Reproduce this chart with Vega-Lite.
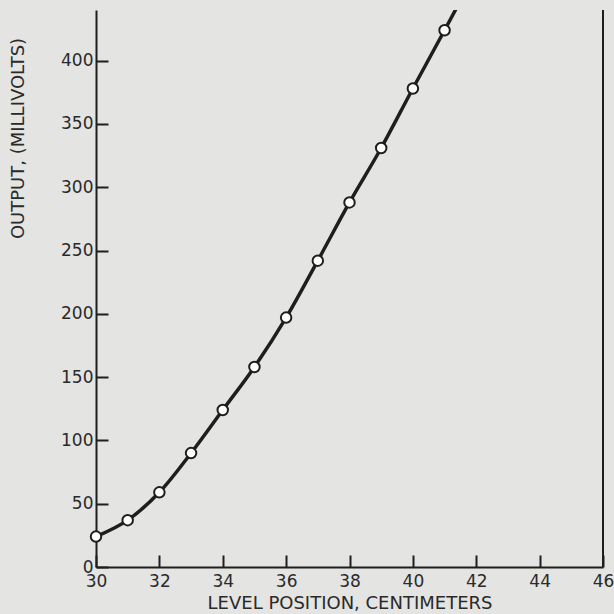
{
  "$schema": "https://vega.github.io/schema/vega-lite/v6.json",
  "width": 507,
  "height": 557,
  "autosize": {"type": "none"},
  "padding": {"left": 96, "top": 10, "right": 11, "bottom": 47},
  "background": "#e4e4e2",
  "config": {
    "view": {"stroke": null},
    "axis": {
      "domainColor": "#1e1e1e",
      "domainWidth": 2,
      "tickColor": "#1e1e1e",
      "tickWidth": 2,
      "labelFont": "DejaVu Sans",
      "labelFontSize": 17,
      "labelColor": "#2a2a2a",
      "titleFont": "DejaVu Sans",
      "titleFontSize": 18,
      "titleFontWeight": "normal",
      "titleColor": "#2a2a2a",
      "grid": false
    }
  },
  "datasets": {
    "pts": [
      {"pos": 30, "mv": 24},
      {"pos": 31, "mv": 37},
      {"pos": 32, "mv": 59},
      {"pos": 33, "mv": 90},
      {"pos": 34, "mv": 124},
      {"pos": 35, "mv": 158},
      {"pos": 36, "mv": 197},
      {"pos": 37, "mv": 242},
      {"pos": 38, "mv": 288},
      {"pos": 39, "mv": 331},
      {"pos": 40, "mv": 378},
      {"pos": 41, "mv": 424}
    ],
    "curve": [
      {"pos": 30, "mv": 24},
      {"pos": 31, "mv": 37},
      {"pos": 32, "mv": 59},
      {"pos": 33, "mv": 90},
      {"pos": 34, "mv": 124},
      {"pos": 35, "mv": 158},
      {"pos": 36, "mv": 197},
      {"pos": 37, "mv": 242},
      {"pos": 38, "mv": 288},
      {"pos": 39, "mv": 331},
      {"pos": 40, "mv": 378},
      {"pos": 41, "mv": 424},
      {"pos": 41.6, "mv": 452}
    ],
    "border": [{"pos": 46}]
  },
  "layer": [
    {
      "data": {"name": "curve"},
      "mark": {"type": "line", "interpolate": "monotone", "color": "#1e1e1e", "strokeWidth": 3.5, "clip": true},
      "encoding": {
        "x": {
          "field": "pos", "type": "quantitative",
          "scale": {"domain": [30, 46], "nice": false, "zero": false},
          "axis": {
            "values": [30, 32, 34, 36, 38, 40, 42, 44, 46],
            "tickSize": -12,
            "labelPadding": 18,
            "labelAlign": "center",
            "title": "LEVEL POSITION, CENTIMETERS",
            "titlePadding": 5
          }
        },
        "y": {
          "field": "mv", "type": "quantitative",
          "scale": {"domain": [0, 440], "nice": false},
          "axis": {
            "values": [0, 50, 100, 150, 200, 250, 300, 350, 400],
            "tickSize": -12,
            "labelPadding": 15,
            "title": "OUTPUT, (MILLIVOLTS)",
            "titleX": -78,
            "titleY": 128,
            "titleAngle": -90,
            "titleAlign": "center",
            "titleBaseline": "middle"
          }
        }
      }
    },
    {
      "data": {"name": "pts"},
      "mark": {"type": "point", "shape": "circle", "filled": true, "fill": "#ffffff", "stroke": "#1e1e1e", "strokeWidth": 2, "size": 110, "opacity": 1},
      "encoding": {
        "x": {"field": "pos", "type": "quantitative"},
        "y": {"field": "mv", "type": "quantitative"}
      }
    },
    {
      "data": {"name": "border"},
      "mark": {"type": "rule", "color": "#1e1e1e", "strokeWidth": 2},
      "encoding": {
        "x": {"field": "pos", "type": "quantitative"}
      }
    }
  ]
}
